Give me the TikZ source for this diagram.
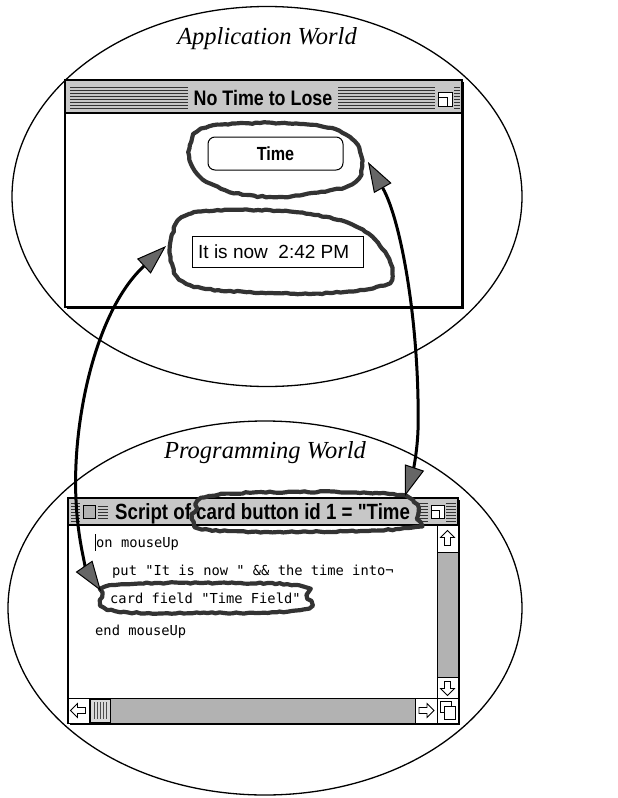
\documentclass[tikz,border=0pt]{standalone}
\usepackage{fontspec}
\setmainfont{Liberation Serif}
\newfontfamily\chic[FakeStretch=0.85]{Liberation Sans}
\newfontfamily\geneva{Liberation Sans}
\newfontfamily\monaco{DejaVu Sans Mono}
\usetikzlibrary{arrows.meta,decorations.pathmorphing}
\tikzset{
  world/.style={draw=black,line width=1.3pt},
  worldlabel/.style={font=\fontsize{24.5}{26}\selectfont\itshape,inner sep=0pt,anchor=base},
  win/.style={draw=black,fill=white,line width=1.4pt},
  shadow/.style={fill=black},
  stripe/.style={draw=black!80,line width=0.8pt},
  titlebg/.style={fill=black!22},
  wintitle/.style={font=\chic\bfseries\fontsize{21}{22}\selectfont,inner sep=1pt},
  code/.style={font=\monaco\fontsize{13.75}{14}\selectfont,inner sep=0pt,anchor=base west},
  loopmark/.style={draw=black!80,line width=4.2pt,line join=round,
    decorate,decoration={random steps,segment length=4pt,amplitude=0.7pt}},
  link/.style={draw=black,line width=3pt,
    {Triangle[length=30pt,width=20pt,fill=black!60,line width=1pt]}-{Triangle[length=30pt,width=20pt,fill=black!60,line width=1pt]}},
  sbox/.style={draw=black,fill=white,line width=0.9pt},
  sgray/.style={draw=black,fill=black!30,line width=0.9pt},
  sarrow/.style={draw=black,fill=white,line width=0.8pt}
}
\begin{document}
\begin{tikzpicture}[x=1pt,y=-1pt]
\useasboundingbox (0,0) rectangle (618,798);
\fill[white] (0,0) rectangle (618,798);

% ---------- worlds ----------
\draw[world] (267,196.5) ellipse [x radius=255,y radius=190];
\draw[world] (265,608) ellipse [x radius=257,y radius=187];
\node[worldlabel] (appw) at (267,44) {Application World};
\node[worldlabel] (progw) at (265,458) {Programming World};

% ---------- application window ----------
\fill[shadow] (67,82) rectangle (464,309);
\draw[win] (65,80) rectangle (462,307);
\fill[titlebg] (66,81) rectangle (461,113);
\draw[line width=1.2pt] (65,113) -- (462,113);
\foreach \yy in {87,90,...,108} {
  \draw[stripe] (70,\yy) -- (188,\yy);
  \draw[stripe] (338,\yy) -- (435,\yy);
  \draw[stripe] (454,\yy) -- (460,\yy);
}
\fill[titlebg] (188,84) rectangle (338,111);
\node[wintitle] (apptitle) at (263,98) {No Time to Lose};
\draw[sbox] (438,92) rectangle (452,106);
\draw[line width=0.8pt] (438,97) -- (447,97) -- (447,106);

% Time button
\draw[draw=black,fill=white,line width=1pt,rounded corners=7pt] (208,137) rectangle (343,170);
\node[font=\chic\bfseries\fontsize{19}{20}\selectfont,inner sep=0pt] (timebtn) at (275.5,154) {Time};

% Time field
\draw[draw=black,fill=white,line width=0.9pt] (192,236) rectangle (363,267);
\node[font=\geneva\fontsize{19}{20}\selectfont,inner sep=0pt,anchor=base west] (timefield) at (198,258) {It is now\ \ 2:42 PM};

% loops in application world
\draw[loopmark] plot[smooth cycle,tension=0.7] coordinates {(190,145) (205,128) (260,123) (320,126) (352,139) (362,163) (352,184) (312,193) (270,197) (225,190) (195,171)};
\draw[loopmark] plot[smooth cycle,tension=0.7] coordinates {(172,235) (190,214) (250,210) (310,214) (355,226) (380,246) (392,268) (384,285) (330,293) (250,292) (190,285) (172,264)};

% ---------- script window ----------
\fill[shadow] (70,500) rectangle (460,725);
\draw[win] (68,498) rectangle (458,723);
\fill[titlebg] (69,499) rectangle (457,525);
\draw[line width=1.2pt] (68,525) -- (458,525);
\foreach \yy in {503,506,...,521} {
  \draw[stripe] (71,\yy) -- (80,\yy);
  \draw[stripe] (418,\yy) -- (428,\yy);
  \draw[stripe] (446,\yy) -- (456,\yy);
}
\draw[sgray] (83,505) rectangle (95,518);
\foreach \yy in {506,509,...,518} { \draw[stripe] (98,\yy) -- (108,\yy); }
\draw[sbox] (431,505) rectangle (444,518);
\draw[line width=0.8pt] (431,510) -- (439,510) -- (439,518);
\node[wintitle,font=\chic\bfseries\fontsize{22}{23}\selectfont,inner sep=0pt,anchor=base west] (scripttitle) at (115,519) {Script of card button id 1 = "Time};

% code
\draw[line width=0.9pt] (95.5,534) -- (95.5,551);
\node[code] (l1) at (96,547) {on mouseUp};
\node[code] (l2) at (112,575) {put "It is now " \&\& the time into¬};
\node[code] (l3) at (110,603) {card field "Time Field"};
\node[code] (l4) at (95,635) {end mouseUp};

% vertical scrollbar
\draw[sgray] (437,525) rectangle (458,698);
\draw[sbox] (437,525) rectangle (458,552);
\draw[sbox] (437,677) rectangle (458,698);
\draw[sarrow,shift={(447.5,538.5)}] (0,-8) -- (7,-1) -- (3,-1) -- (3,7) -- (-3,7) -- (-3,-1) -- (-7,-1) -- cycle;
\draw[sarrow,shift={(447.5,687.5)}] (0,8) -- (7,1) -- (3,1) -- (3,-6) -- (-3,-6) -- (-3,1) -- (-7,1) -- cycle;
% horizontal scrollbar
\draw[sgray] (68,698) rectangle (437,723);
\draw[sbox] (68,698) rectangle (89,723);
\draw[sbox] (415,698) rectangle (437,723);
\draw[sbox] (437,698) rectangle (458,723);
\draw[sarrow,shift={(78.5,710.5)}] (-8,0) -- (-1,-7) -- (-1,-3) -- (7,-3) -- (7,3) -- (-1,3) -- (-1,7) -- cycle;
\draw[sarrow,shift={(426,710.5)}] (8,0) -- (1,-7) -- (1,-3) -- (-7,-3) -- (-7,3) -- (1,3) -- (1,7) -- cycle;
\draw[draw=black,fill=black!15,line width=0.8pt] (90,699) rectangle (110,722);
\foreach \xx in {94,97,...,107} { \draw[black!70,line width=0.6pt] (\xx,702) -- (\xx,719); }
\draw[sbox,line width=0.8pt] (440,701) rectangle (451,712);
\draw[sbox,line width=0.8pt] (444,706) rectangle (455,719);

% loops in programming world
\draw[loopmark] plot[smooth cycle,tension=0.7] coordinates {(195,512) (210,496) (300,492) (390,494) (414,502) (418,515) (408,528) (300,532) (210,530) (194,522)};
\draw[loopmark] plot[smooth cycle,tension=0.7] coordinates {(102,597) (115,585) (200,583) (295,585) (307,595) (300,610) (200,613) (115,611)};

% ---------- connectors ----------
\coordinate (fieldTop) at (166,246);
\coordinate (fieldMid) at (76,500);
\coordinate (fieldBot) at (101,591);
\coordinate (btnTop) at (368,162);
\coordinate (btnMid) at (418,430);
\coordinate (btnBot) at (405,496);
\draw[link] (fieldTop) .. controls (96,310) and (72,420) .. (fieldMid) .. controls (78,545) and (88,572) .. (fieldBot);
\draw[link] (btnTop) .. controls (402,222) and (420,330) .. (btnMid) .. controls (417,458) and (411,478) .. (btnBot);
\end{tikzpicture}
\end{document}
